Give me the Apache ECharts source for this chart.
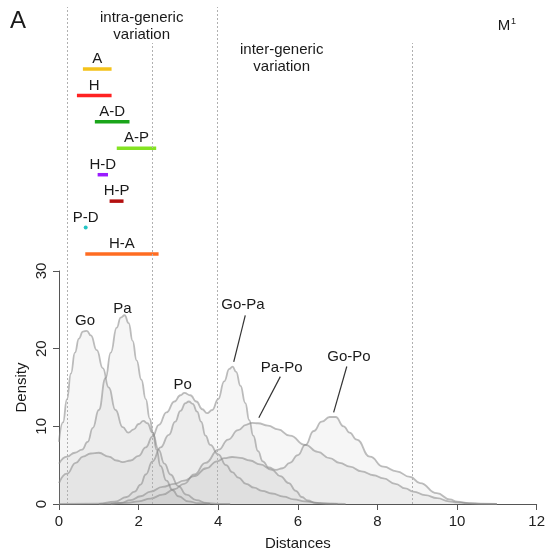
<!DOCTYPE html>
<html>
<head>
<meta charset="utf-8">
<script src="https://cdn.jsdelivr.net/npm/echarts/dist/echarts.min.js"></script>
<style>
html,body{margin:0;padding:0;background:#fff;}
#chart{width:548px;height:556px;}
</style>
</head>
<body>
<div id="chart"></div>
<script>
// ---------- data ----------
const xTickMax = 12;
const yTickMax = 30;

// intra-generic ranges (top panel)
const rangeNames = ['A', 'H', 'A-D', 'A-P', 'H-D', 'H-P', 'P-D', 'H-A'];
const rangeMin   = [0.60, 0.45, 0.90, 1.45, 0.97, 1.27, 0.67, 0.66];
const rangeMax   = [1.32, 1.32, 1.77, 2.44, 1.23, 1.62, 0.67, 2.50];
const rangeColors = ['#f4c21a', '#ff2222', '#1aa51a', '#84e322', '#9a1cff', '#b40f0f', '#22c4c4', '#ff6c22'];

// vertical dotted reference lines (distance values)
const refLinesTall  = [0.21, 3.98];
const refLinesShort = [2.33, 8.88];

// density curves [distance, density]
const densGo = [[0,8],[0.1,10.5],[0.2,13.5],[0.3,16.8],[0.4,19.5],[0.5,21.3],[0.6,22.2],[0.7,22.3],[0.8,21.7],[0.95,19.8],[1.1,17.5],[1.25,15],[1.42,12.1],[1.6,9.9],[1.74,9.2],[1.88,9.6],[2.0,10.3],[2.12,10.7],[2.22,10.4],[2.35,9.2],[2.5,7.0],[2.65,5.2],[2.8,3.8],[3.0,2.3],[3.2,1.2],[3.45,0.5],[3.7,0.15],[4.0,0.02],[4.3,0]];
const densPa = [[0,5.2],[0.2,6.1],[0.4,6.6],[0.58,7.0],[0.72,8.0],[0.85,9.8],[1.0,12.1],[1.17,16.2],[1.3,19.5],[1.45,22.7],[1.55,24.0],[1.65,24.3],[1.75,23.3],[1.85,21],[1.95,18.5],[2.07,16],[2.18,13.5],[2.28,11],[2.36,9.2],[2.45,7.0],[2.55,4.9],[2.7,3.0],[2.85,1.8],[3.0,1.0],[3.25,0.35],[3.5,0.1],[3.8,0]];
const densPo = [[0,2.7],[0.2,3.9],[0.42,5.3],[0.6,6.1],[0.8,6.5],[1.0,6.6],[1.25,6.1],[1.45,5.6],[1.6,5.4],[1.8,5.6],[2.0,6.2],[2.18,7.3],[2.35,8.7],[2.51,10.2],[2.7,11.8],[2.9,13.2],[3.05,14.0],[3.15,14.3],[3.3,14.0],[3.45,13.2],[3.6,12.2],[3.72,11.7],[3.85,12.1],[4.0,13.5],[4.15,15.8],[4.28,17.4],[4.36,17.7],[4.45,17.0],[4.56,15.2],[4.68,13.0],[4.78,10.8],[4.88,8.8],[5.0,6.8],[5.12,5.5],[5.27,4.7],[5.45,4.4],[5.62,4.6],[5.8,5.3],[6.0,6.3],[6.19,7.6],[6.4,9.4],[6.6,10.6],[6.8,11.2],[6.95,11.2],[7.15,10.0],[7.3,9.2],[7.48,8.3],[7.81,6.1],[8.15,4.8],[8.48,4.2],[8.82,3.5],[9.07,2.7],[9.49,1.4],[9.82,0.6],[10.0,0.3],[10.3,0.1],[10.6,0.03],[11,0]];
const densPoB = [[0,0],[1.0,0.05],[1.4,0.3],[1.7,0.9],[1.9,1.6],[2.05,2.5],[2.18,3.8],[2.35,5.5],[2.55,7.3],[2.76,8.9],[2.92,10.6],[3.05,12.0],[3.18,13.0],[3.26,13.2],[3.36,12.9],[3.47,11.9],[3.57,10.6],[3.68,8.8],[3.8,7.6],[4.0,6.4],[4.2,5.0],[4.35,4.1],[4.51,3.4],[4.7,2.6],[4.9,2.1],[5.1,1.7],[5.35,1.35],[5.64,0.95],[5.9,0.6],[6.18,0.35],[6.5,0.15],[6.9,0.03],[7.2,0]];
const densPaPo = [[1.3,0],[1.7,0.15],[2.0,0.35],[2.3,0.7],[2.6,1.2],[2.9,1.9],[3.14,2.6],[3.4,3.8],[3.68,5.3],[4.01,7.0],[4.25,8.3],[4.5,9.5],[4.7,10.2],[4.85,10.45],[5.0,10.4],[5.25,10.1],[5.5,9.6],[5.8,8.8],[6.19,7.6],[6.5,6.7],[6.8,5.9],[7.05,5.3],[7.31,4.8],[7.6,4.2],[7.9,3.7],[8.15,3.3],[8.45,2.6],[8.7,2.0],[8.9,1.6],[9.2,1.15],[9.5,0.75],[9.8,0.35],[10.0,0.2],[10.3,0.07],[10.7,0.01],[11,0]];
const densLow = [[1.0,0],[1.3,0.05],[1.55,0.15],[1.8,0.5],[2.05,1.0],[2.3,1.6],[2.6,2.2],[2.9,2.6],[3.14,3.0],[3.4,3.6],[3.7,4.6],[3.97,5.5],[4.15,5.9],[4.35,6.05],[4.55,5.95],[4.8,5.6],[5.05,5.1],[5.35,4.4],[5.56,3.6],[5.77,2.7],[5.95,1.7],[6.1,0.9],[6.25,0.45],[6.45,0.15],[6.7,0.03],[7,0]];

// leader lines for labels: [from, to] in data units
const leaderGoPa = [[4.68,24.3],[4.39,18.3]];
const leaderPaPo = [[5.56,16.4],[5.02,11.1]];
const leaderGoPo = [[7.23,17.7],[6.90,11.8]];

// ---------- chart ----------
const FONT = 'Liberation Sans, Arial, Helvetica, sans-serif';
const chart = echarts.init(document.getElementById('chart'), null, {renderer: 'canvas'});

const L = 59, R = 11, B = 52;
const hiddenX = (gi) => ({type:'value', gridIndex:gi, min:0, max:xTickMax, show:false});
const hiddenY = (gi) => ({type:'value', gridIndex:gi, min:0, max:1, show:false});

function refLineSeries(gi, vals) {
  return {
    type:'line', xAxisIndex:gi, yAxisIndex:gi, data:[[0,0]], symbol:'none',
    lineStyle:{opacity:0}, silent:true,
    markLine:{
      symbol:['none','none'], silent:true, animation:false,
      label:{show:false},
      lineStyle:{color:'#b0b0b0', type:[2,2], width:1},
      data: vals.map(v => ({xAxis:v}))
    }
  };
}

function densSeries(data, extra) {
  return Object.assign({
    type:'line', xAxisIndex:3, yAxisIndex:3, data:data,
    smooth:0.5, smoothMonotone:'x', symbol:'none', clip:true,
    lineStyle:{color:'rgba(135,135,135,0.55)', width:1.8},
    areaStyle:{color:'rgba(150,150,150,0.12)'},
    silent:true
  }, extra || {});
}

const leaders = [leaderGoPa, leaderPaPo, leaderGoPo].map(l => [{coord:l[0]},{coord:l[1]}]);

function txt(text, x, y, size, extra) {
  return {type:'text', z:100, style:Object.assign({text:text, x:x, y:y, align:'center', verticalAlign:'middle',
    fontSize:size, fontFamily:FONT, fill:'#1a1a1a'}, extra || {})};
}

const option = {
  animation:false,
  textStyle:{fontFamily:FONT},
  grid:[
    {left:L, right:R, top:7, bottom:B},
    {left:L, right:R, top:43, bottom:B},
    {left:L, right:R, top:55.8, height:211.4},
    {left:L, right:R, top:271, bottom:B}
  ],
  xAxis:[
    hiddenX(0), hiddenX(1), hiddenX(2),
    {type:'value', gridIndex:3, min:0, max:xTickMax, interval:2,
     name:'Distances', nameLocation:'middle', nameGap:32, nameMoveOverlap:false,
     nameTextStyle:{fontSize:15, color:'#1a1a1a', fontFamily:FONT},
     axisLine:{lineStyle:{color:'#555', width:1}},
     axisTick:{length:6, lineStyle:{color:'#555'}},
     axisLabel:{fontSize:15, color:'#222', margin:10, fontFamily:FONT},
     splitLine:{show:false}}
  ],
  yAxis:[
    hiddenY(0), hiddenY(1),
    {type:'category', gridIndex:2, data:rangeNames, inverse:true, show:false},
    {type:'value', gridIndex:3, min:0, max:yTickMax, interval:10,
     name:'Density', nameLocation:'middle', nameGap:30, nameMoveOverlap:false,
     nameTextStyle:{fontSize:15, color:'#1a1a1a', fontFamily:FONT},
     axisLine:{show:true, lineStyle:{color:'#555', width:1}},
     axisTick:{show:true, length:6, lineStyle:{color:'#555'}},
     axisLabel:{fontSize:15, color:'#222', margin:10, rotate:90, fontFamily:FONT},
     splitLine:{show:false}}
  ],
  series:[
    refLineSeries(0, refLinesTall),
    refLineSeries(1, refLinesShort),
    {
      type:'custom', xAxisIndex:2, yAxisIndex:2, silent:true,
      data: rangeNames.map((n,i) => [rangeMin[i], rangeMax[i], i]),
      encode:{x:[0,1], y:2},
      renderItem:function(params, api){
        const i = api.value(2);
        const p1 = api.coord([api.value(0), i]);
        const p2 = api.coord([api.value(1), i]);
        const col = rangeColors[i];
        const children = [];
        if (api.value(1) - api.value(0) < 0.02) {
          children.push({type:'circle', shape:{cx:p1[0], cy:p1[1], r:2}, style:{fill:col}});
        } else {
          children.push({type:'line', shape:{x1:p1[0], y1:p1[1], x2:p2[0], y2:p2[1]},
            style:{stroke:col, lineWidth:3.5}});
        }
        children.push({type:'text', style:{text:rangeNames[i], x:(p1[0]+p2[0])/2, y:p1[1]-10,
          align:'center', verticalAlign:'middle', fontSize:15, fontFamily:FONT, fill:'#1a1a1a'}});
        return {type:'group', children:children};
      }
    },
    densSeries(densLow),
    densSeries(densPaPo),
    densSeries(densPoB),
    densSeries(densPo),
    densSeries(densPa),
    densSeries(densGo, {
      markLine:{symbol:['none','none'], silent:true, animation:false, label:{show:false},
        lineStyle:{color:'#333', width:1.2, type:'solid'}, data:leaders}
    })
  ],
  graphic:[
    txt('A', 18, 21, 24),
    txt('intra-generic', 141.7, 17.5, 15),
    txt('variation', 141.7, 35, 15),
    txt('inter-generic', 281.7, 50, 15),
    txt('variation', 281.7, 67, 15),
    txt('M', 504, 25.7, 15),
    txt('1', 513.5, 22, 9),
    txt('Go', 85, 321, 15),
    txt('Pa', 122.3, 309.3, 15),
    txt('Po', 182.7, 385, 15),
    txt('Go-Pa', 243, 305, 15),
    txt('Pa-Po', 281.7, 367.7, 15),
    txt('Go-Po', 349, 356.7, 15)
  ]
};
chart.setOption(option);
</script>
</body>
</html>
